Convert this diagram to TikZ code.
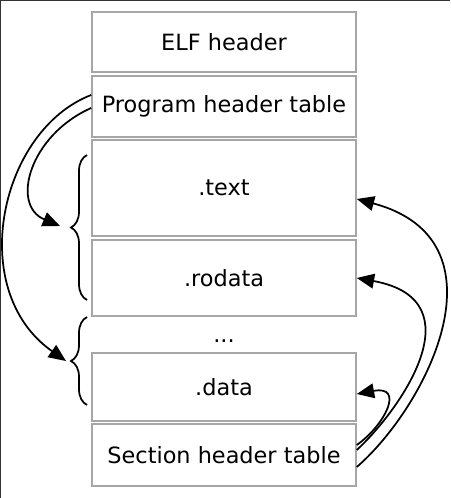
\documentclass[tikz,border=0pt]{standalone}
\usepackage{fontspec}
\setmainfont{DejaVu Sans}
\usetikzlibrary{decorations.pathreplacing, arrows.meta, calc}

\tikzset{
	seg/.style={draw=black!35, line width=1.2pt, minimum width=198pt, inner sep=0pt, font=\fontsize{16.8}{20}\selectfont},
	link/.style={line width=1.3pt, -{Triangle[length=13pt, width=11pt]}},
	grp/.style={line width=1.3pt, decorate, decoration={brace, amplitude=12pt}}
}

\begin{document}
\begin{tikzpicture}[x=0.75pt, y=-0.75pt]
	% Fix the canvas (units are pixels)
	\useasboundingbox (0,0) rectangle (450,498);

	% Draw the frame edges
	\draw[black!80, line width=1.5pt] (0,498) -- (0,0) -- (450,0);

	% Define the column of the segments
	\def\xmid{224}

	% Draw the segments
	\node[seg, minimum height=45pt] (elf) at (\xmid,42) {ELF header};
	\node[seg, minimum height=45.75pt] (pht) at (\xmid,106.5) {Program header table};
	\node[seg, minimum height=72pt] (text) at (\xmid,188) {.text};
	\node[seg, minimum height=57pt] (rodata) at (\xmid,278) {.rodata};
	\node[font=\fontsize{16.8}{20}\selectfont, inner sep=0pt] (dots) at (\xmid,341) {...};
	\node[seg, minimum height=51pt] (data) at (\xmid,387) {.data};
	\node[seg, minimum height=46.5pt] (sht) at (\xmid,455) {Section header table};

	% Draw the braces
	\draw[grp] (87,300) -- (87,155);
	\draw[grp] (87,405) -- (87,317);

	% Ends of the left arrows (next to the brace tips)
	\coordinate (tipA) at (60,226);
	\coordinate (tipB) at (66,361);

	% Program header table points to the segments
	\draw[link] ($(pht.west)+(0,1.5)$) .. controls (30,135) and (10,205) .. (tipA);
	\draw[link] ($(pht.west)+(0,-11.5)$) .. controls (0,130) and (-35,290) .. (tipB);

	% Section header table points to the sections
	\draw[link] ($(sht.east)+(0,-10)$) .. controls (385,425) and (405,385) .. ($(data.east)+(0,7)$);
	\draw[link] ($(sht.east)+(0,-5)$) .. controls (400,410) and (478,300) .. (rodata.east);
	\draw[link] ($(sht.east)+(0,12)$) .. controls (428,405) and (510,240) .. ($(text.east)+(0,11)$);
\end{tikzpicture}
\end{document}
